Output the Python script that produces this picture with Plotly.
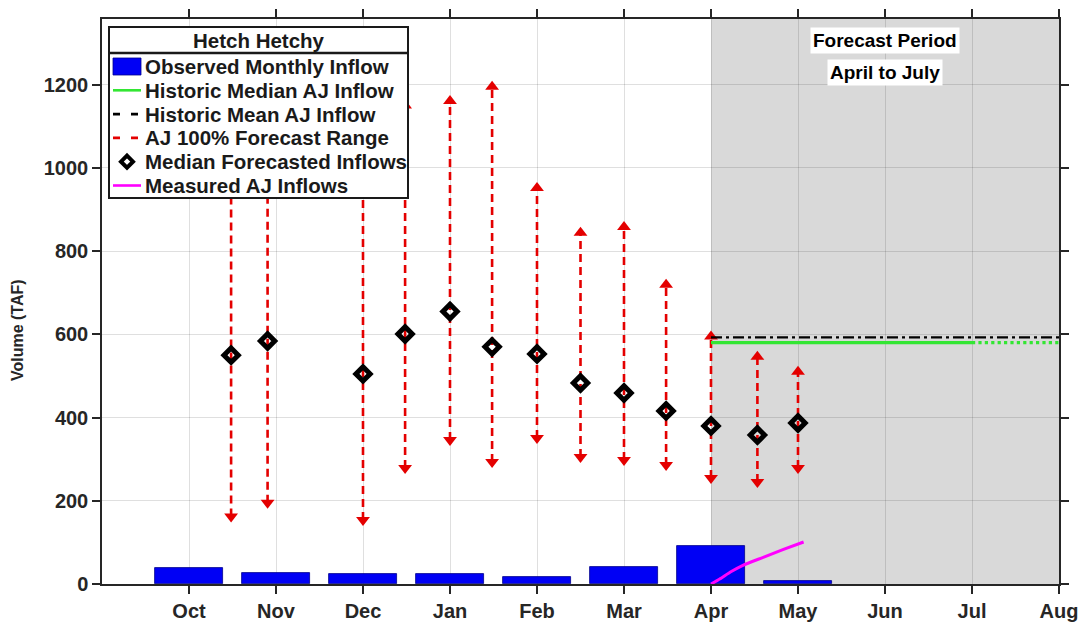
import plotly.graph_objects as go

# ---- axis months (Sep = 0 ... Aug = 11) ----
axis_months = ["Sep", "Oct", "Nov", "Dec", "Jan", "Feb", "Mar", "Apr", "May", "Jun", "Jul", "Aug"]
tick_labels = ["Oct", "Nov", "Dec", "Jan", "Feb", "Mar", "Apr", "May", "Jun", "Jul", "Aug"]
days_in_month = {"Sep": 30, "Oct": 31, "Nov": 30, "Dec": 31, "Jan": 31, "Feb": 28,
                 "Mar": 31, "Apr": 30, "May": 31, "Jun": 30, "Jul": 31, "Aug": 31}

# ---- observed monthly inflow (TAF) ----
obs_months = ["Oct", "Nov", "Dec", "Jan", "Feb", "Mar", "Apr", "May"]
obs_inflow = [39, 27, 23, 23, 17.5, 40, 92, 8]

# ---- April-July forecasts by issue date (TAF) ----
forecast_dates = ["Oct 16", "Oct 29", "Dec 1", "Dec 16", "Jan 1", "Jan 16", "Feb 1",
                  "Feb 15", "Mar 1", "Mar 16", "Apr 1", "Apr 17", "May 1"]
forecast_median = [550, 584, 505, 601, 655, 570, 553, 483, 459, 416, 380, 358, 387]
forecast_high = [1100, 1150, 1120, 1150, 1161, 1195, 952, 844, 858, 719, 595, 546, 510]
forecast_low = [162, 195, 154, 279, 346, 293, 351, 305, 298, 286, 255, 245, 279]

# ---- measured cumulative AJ inflow (TAF) ----
measured_dates = ["Apr 1", "Apr 4", "Apr 8", "Apr 12", "Apr 19", "Apr 26", "May 3"]
measured_aj = [0, 12, 30, 45, 64, 83, 101]

# ---- historic AJ statistics (TAF) ----
hist_median_aj = 580
hist_mean_aj = 593
period_start, period_green_end, period_end = "Apr 1", "Jul 1", "Aug 1"

y_ticks = [0, 200, 400, 600, 800, 1000, 1200]


def month_pos(date):
    mon, day = date.split()
    return axis_months.index(mon) + (int(day) - 1) / days_in_month[mon]


FONT = "Liberation Sans, Arial, Helvetica, sans-serif"
RED = "#e40000"
GREEN = "#33e633"

fig = go.Figure()

# observed monthly bars
fig.add_trace(go.Bar(
    x=[axis_months.index(m) for m in obs_months], y=obs_inflow, width=0.78,
    marker=dict(color="#0000f5", line=dict(color="#00008a", width=0.8)),
    showlegend=False))

# forecast range dashed stems
xs, ys = [], []
for d, lo, hi in zip(forecast_dates, forecast_low, forecast_high):
    xs += [month_pos(d), month_pos(d), None]
    ys += [lo, hi, None]
fig.add_trace(go.Scatter(x=xs, y=ys, mode="lines",
                         line=dict(color=RED, width=2.6, dash="8px,5px"),
                         showlegend=False))

fpos = [month_pos(d) for d in forecast_dates]
fig.add_trace(go.Scatter(x=fpos, y=forecast_high, mode="markers",
                         marker=dict(symbol="triangle-up", size=12, color=RED),
                         showlegend=False))
fig.add_trace(go.Scatter(x=fpos, y=forecast_low, mode="markers",
                         marker=dict(symbol="triangle-down", size=12, color=RED),
                         showlegend=False))

# historic AJ lines across the forecast period
x0, x1, x2 = month_pos(period_start), month_pos(period_green_end), month_pos(period_end)
fig.add_trace(go.Scatter(x=[x0, x2], y=[hist_mean_aj] * 2, mode="lines",
                         line=dict(color="black", width=2.2, dash="11px,4px,3px,4px"),
                         showlegend=False))
fig.add_trace(go.Scatter(x=[x0, x1], y=[hist_median_aj] * 2, mode="lines",
                         line=dict(color=GREEN, width=3.2), showlegend=False))
fig.add_trace(go.Scatter(x=[x1, x2], y=[hist_median_aj] * 2, mode="lines",
                         line=dict(color=GREEN, width=3.2, dash="dot"), showlegend=False))

# median forecasts
fig.add_trace(go.Scatter(x=fpos, y=forecast_median, mode="markers",
                         marker=dict(symbol="diamond-open", size=11, color="black",
                                     line=dict(color="black", width=5)),
                         showlegend=False))

# measured AJ inflow
fig.add_trace(go.Scatter(x=[month_pos(d) for d in measured_dates], y=measured_aj,
                         mode="lines", line=dict(color="#ff00ff", width=3, shape="spline",
                                                 smoothing=0.6),
                         showlegend=False))

# ---- layout geometry (pixels) ----
W, H = 1083, 628
L, R, T, B = 102, 1059, 19, 584


def px(xp):
    return (xp - L) / (R - L)


def py(yp):
    return (B - yp) / (B - T)


shapes = [
    # forecast period shading
    dict(type="rect", xref="x", yref="paper", x0=x0, x1=x2, y0=0, y1=1,
         fillcolor="#d9d9d9", line=dict(width=0), layer="below"),
]

# legend box
lx0, lx1, ly0, ly1, lsep = 109, 408, 27, 198, 53
shapes += [
    dict(type="rect", xref="paper", yref="paper", x0=px(lx0), x1=px(lx1), y0=py(ly1), y1=py(ly0),
         fillcolor="white", line=dict(color="#1a1a1a", width=2), layer="above"),
    dict(type="line", xref="paper", yref="paper", x0=px(lx0), x1=px(lx1), y0=py(lsep), y1=py(lsep),
         line=dict(color="#1a1a1a", width=2.5), layer="above"),
]
legend_rows = [
    ("Observed Monthly Inflow", "bar"),
    ("Historic Median AJ Inflow", "green"),
    ("Historic Mean AJ Inflow", "black"),
    ("AJ 100% Forecast Range", "red"),
    ("Median Forecasted Inflows", "diamond"),
    ("Measured AJ Inflows", "magenta"),
]
row_y0, row_dy = 66.5, 23.8
sx0, sx1, tx = 113, 141, 143
annotations = []
for i, (label, kind) in enumerate(legend_rows):
    yc = row_y0 + i * row_dy
    if kind == "bar":
        shapes.append(dict(type="rect", xref="paper", yref="paper", x0=px(sx0), x1=px(sx1),
                           y0=py(yc + 8.5), y1=py(yc - 8.5), fillcolor="#0000f5",
                           line=dict(color="#00008a", width=0.8), layer="above"))
    elif kind == "diamond":
        c, r = 127, 6
        shapes.append(dict(type="path", xref="paper", yref="paper",
                           path=f"M {px(c)},{py(yc - r)} L {px(c + r)},{py(yc)} "
                                f"L {px(c)},{py(yc + r)} L {px(c - r)},{py(yc)} Z",
                           line=dict(color="black", width=4), fillcolor="white",
                           layer="above"))
    else:
        col, dash = {"green": (GREEN, "solid"), "black": ("black", "7px,11px"),
                     "red": (RED, "7px,11px"), "magenta": ("#ff00ff", "solid")}[kind]
        shapes.append(dict(type="line", xref="paper", yref="paper", x0=px(sx0), x1=px(sx1),
                           y0=py(yc), y1=py(yc), line=dict(color=col, width=2.6, dash=dash),
                           layer="above"))
    annotations.append(dict(text=label, xref="paper", yref="paper", x=px(tx), y=py(yc),
                            xanchor="left", yanchor="middle", showarrow=False,
                            font=dict(family=FONT, size=20.5, color="#1a1a1a", weight="bold")))
annotations.append(dict(text="Hetch Hetchy", xref="paper", yref="paper",
                        x=px((lx0 + lx1) / 2), y=py(40.5), xanchor="center", yanchor="middle",
                        showarrow=False,
                        font=dict(family=FONT, size=20.5, color="#1a1a1a", weight="bold")))

# forecast period labels
for text, yc in [("Forecast Period", 41), ("April to July", 72)]:
    annotations.append(dict(text=text, xref="x", yref="paper", x=axis_months.index("Jun"),
                            y=py(yc), xanchor="center", yanchor="middle", showarrow=False,
                            bgcolor="white", borderpad=2,
                            font=dict(family=FONT, size=19, color="black", weight="bold")))

# y-axis title
annotations.append(dict(text="Volume (TAF)", xref="paper", yref="paper", x=px(18), y=py(330),
                        xanchor="center", yanchor="middle", textangle=-90, showarrow=False,
                        font=dict(family=FONT, size=16, color="#262626", weight="bold")))

tick_font = dict(family=FONT, size=20, color="#262626", weight="bold")
grid = "rgba(38,38,38,0.15)"

fig.update_layout(
    width=W, height=H,
    margin=dict(l=L, r=W - R, t=T, b=H - B, autoexpand=False),
    paper_bgcolor="white", plot_bgcolor="white",
    bargap=0, showlegend=False,
    shapes=shapes, annotations=annotations,
    xaxis=dict(range=[0, 11], tickmode="array", tickvals=list(range(1, 12)),
               ticktext=tick_labels, showgrid=True, gridcolor=grid, gridwidth=1,
               zeroline=False, showline=True, linecolor="#262626", linewidth=1.5,
               mirror="ticks", ticks="outside", ticklen=8, tickwidth=1.5,
               tickcolor="#262626", tickfont=tick_font, automargin=False),
    yaxis=dict(range=[0, 1358], tickmode="array", tickvals=y_ticks,
               showgrid=True, gridcolor=grid, gridwidth=1, zeroline=False,
               showline=True, linecolor="#262626", linewidth=1.5,
               mirror="ticks", ticks="outside", ticklen=8, tickwidth=1.5,
               tickcolor="#262626", tickfont=tick_font, automargin=False),
)

fig.write_html("out.html")
